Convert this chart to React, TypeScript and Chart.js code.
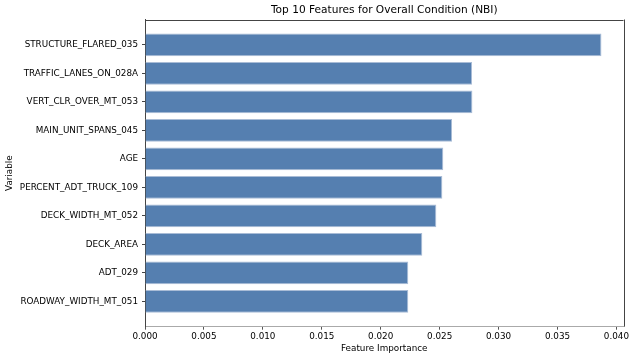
import React, { useEffect, useRef } from "react";
import { Chart, registerables } from "chart.js";

Chart.register(...registerables);

const featureNames: string[] = [
  "STRUCTURE_FLARED_035",
  "TRAFFIC_LANES_ON_028A",
  "VERT_CLR_OVER_MT_053",
  "MAIN_UNIT_SPANS_045",
  "AGE",
  "PERCENT_ADT_TRUCK_109",
  "DECK_WIDTH_MT_052",
  "DECK_AREA",
  "ADT_029",
  "ROADWAY_WIDTH_MT_051",
];

const importanceValues: number[] = [
  0.03873, 0.02775, 0.02778, 0.02605, 0.02531, 0.02523, 0.02472, 0.02353, 0.02234, 0.02234,
];

const xTickValues: number[] = [0, 0.005, 0.01, 0.015, 0.02, 0.025, 0.03, 0.035, 0.04];

const titleText = "Top 10 Features for Overall Condition (NBI)";
const xAxisTitle = "Feature Importance";
const yAxisTitle = "Variable";

const FONT = "'DejaVu Sans', sans-serif";

const spinePlugin = {
  id: "spines",
  afterDraw(chart: any) {
    const { ctx, chartArea } = chart;
    ctx.save();
    ctx.strokeStyle = "#444";
    ctx.lineWidth = 1;
    ctx.beginPath();
    ctx.moveTo(chartArea.left, Math.round(chartArea.top) + 0.5);
    ctx.lineTo(chartArea.right, Math.round(chartArea.top) + 0.5);
    ctx.moveTo(Math.round(chartArea.right) + 0.5, chartArea.top);
    ctx.lineTo(Math.round(chartArea.right) + 0.5, chartArea.bottom);
    ctx.stroke();
    ctx.restore();
  },
};

export default function App() {
  const canvasRef = useRef<HTMLCanvasElement | null>(null);

  useEffect(() => {
    document.body.style.margin = "0";
    const canvas = canvasRef.current;
    if (!canvas) return;
    const chart = new Chart(canvas, {
      type: "bar",
      data: {
        datasets: [
          {
            data: importanceValues.map((v, i) => ({ x: v, y: i })),
            backgroundColor: "#557fb0",
            borderColor: "#a9bcd6",
            borderWidth: 1,
            borderSkipped: "left",
            categoryPercentage: 1,
            barPercentage: 0.8,
          },
        ],
      },
      options: {
        indexAxis: "y",
        animation: false,
        responsive: false,
        events: [],
        layout: { padding: { left: 0, right: 11.5, top: 0, bottom: 0 } },
        plugins: {
          legend: { display: false },
          tooltip: { enabled: false },
          title: {
            display: true,
            text: titleText,
            fullSize: false,
            color: "#000",
            font: { family: FONT, size: 10.6, weight: "normal", lineHeight: 1.2 },
            padding: { top: 4, bottom: 2.8 },
          },
        },
        scales: {
          x: {
            type: "linear",
            min: 0,
            max: 0.0406,
            offset: false,
            afterBuildTicks: (scale: any) => {
              scale.ticks = xTickValues.map((v) => ({ value: v }));
            },
            afterFit: (scale: any) => {
              scale.height = 32.3;
            },
            ticks: {
              color: "#000",
              font: { family: FONT, size: 8.8 },
              padding: 1.5,
              maxRotation: 0,
              callback: (v: any) => Number(v).toFixed(3),
            },
            grid: {
              offset: false,
              drawOnChartArea: false,
              drawTicks: true,
              tickLength: 3,
              color: "#555",
            },
            border: { display: true, color: "#aaa", width: 1 },
            title: {
              display: true,
              text: xAxisTitle,
              color: "#000",
              font: { family: FONT, size: 8.8 },
              padding: { top: 0, bottom: 5.5 },
            },
          },
          y: {
            type: "linear",
            reverse: true,
            min: -0.89,
            max: 9.89,
            offset: false,
            afterBuildTicks: (scale: any) => {
              scale.ticks = featureNames.map((_, i) => ({ value: i }));
            },
            afterFit: (scale: any) => {
              scale.width = 145;
            },
            ticks: {
              color: "#000",
              font: { family: FONT, size: 8.8 },
              padding: 4,
              autoSkip: false,
              callback: (v: any) => featureNames[Number(v)] ?? "",
            },
            grid: {
              offset: false,
              drawOnChartArea: false,
              drawTicks: true,
              tickLength: 3,
              color: "#444",
            },
            border: { display: true, color: "#444", width: 1 },
            title: {
              display: true,
              text: yAxisTitle,
              color: "#000",
              font: { family: FONT, size: 8.8 },
              padding: { top: 4, bottom: 0 },
            },
          },
        },
      },
      plugins: [spinePlugin],
    } as any);
    return () => chart.destroy();
  }, []);

  return (
    <div style={{ width: 635, height: 359 }}>
      <canvas ref={canvasRef} width={635} height={359} />
    </div>
  );
}
